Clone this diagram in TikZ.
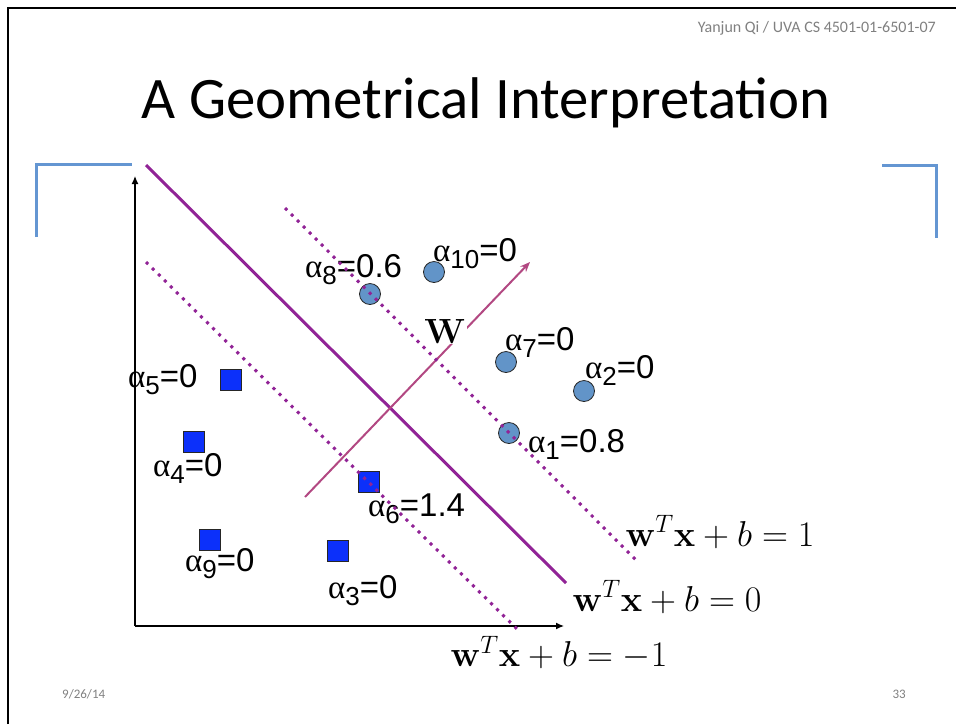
\RequirePackage{fix-cm}
\documentclass[tikz,border=0pt]{standalone}
\usepackage{amsmath,amssymb,bm}
\usepackage[no-math]{fontspec}
\setmainfont{Carlito}
\newfontfamily\alphafont{Liberation Sans}
\newfontfamily\greekfont{Liberation Serif}
\usepackage{xcolor}
\usepackage{tikz}
\usetikzlibrary{arrows.meta}
\definecolor{hplane}{RGB}{145,35,150}
\definecolor{wvec}{RGB}{178,72,130}
\definecolor{posfill}{RGB}{98,148,200}
\definecolor{negfill}{RGB}{12,48,250}
\definecolor{bracket}{RGB}{100,150,210}
\newcommand{\alab}[2]{{\greekfont α}\raisebox{-7pt}{\fontsize{26}{26}\selectfont#1}=#2}
\tikzset{
  posdot/.style={circle,draw=black!85,fill=posfill,minimum size=21pt,inner sep=0pt,line width=0.8pt},
  negbox/.style={rectangle,draw=black!85,fill=negfill,minimum size=21pt,inner sep=0pt,line width=0.8pt},
  alphalab/.style={font=\alphafont\fontsize{33}{35}\selectfont,inner sep=0pt,anchor=west},
  eqn/.style={font=\fontsize{36}{38}\selectfont,inner sep=0pt},
  axisline/.style={line width=1.3pt,-{Latex[length=8pt,width=7pt]}},
  marginline/.style={hplane,line width=3pt,dash pattern=on 3pt off 5.5pt},
  boundary/.style={hplane,line width=3pt},
  slideframe/.style={bracket,line width=3pt},
  smalltext/.style={text=gray,inner sep=0pt}
}

\begin{document}
\begin{tikzpicture}[x=1pt,y=-1pt]
  \useasboundingbox (0,0) rectangle (956,724);
  % slide frame
  \draw[line width=2.5pt] (8,724) -- (8,8) -- (956,8);
  \draw[slideframe] (36,237) -- (36,164) -- (132,164);
  \draw[slideframe] (882,165) -- (936,165) -- (936,238);
  \node[smalltext,anchor=east,font=\fontsize{16}{18}\selectfont] (hdr) at (936,28)
    {Yanjun Qi / UVA CS 4501-01-6501-07};
  \node[font=\fontsize{58.8}{60}\selectfont] (title) at (486,103) {A Geometrical Interpretation};
  \node[smalltext,anchor=west,font=\fontsize{13}{15}\selectfont] (date) at (62,694) {9/26/14};
  \node[smalltext,anchor=east,font=\fontsize{13}{15}\selectfont] (page) at (906,694) {33};

  % axes
  \coordinate (o) at (135,626);
  \coordinate (ytip) at (135,176);
  \coordinate (xtip) at (564,626);
  \draw[axisline] (o) -- (ytip);
  \draw[axisline] (o) -- (xtip);

  % separating hyperplane and normal vector
  \draw[boundary] (146,165) -- (566,583);
  \draw[wvec,line width=2pt,-{Stealth[length=10pt,width=8pt]}] (305,497) -- (530,262);
  \node[fill=white,inner sep=1pt,font=\fontsize{35}{37}\selectfont] (w) at (445,331) {$\mathbf{W}$};

  % positive class
  \node[posdot] (c8) at (370,294) {};
  \node[posdot] (c10) at (434,272) {};
  \node[posdot] (c7) at (506,362) {};
  \node[posdot] (c2) at (584,391) {};
  \node[posdot] (c1) at (509,433) {};
  % negative class
  \node[negbox] (s5) at (231,380) {};
  \node[negbox] (s4) at (194,442) {};
  \node[negbox] (s6) at (369,482) {};
  \node[negbox] (s9) at (210,540) {};
  \node[negbox] (s3) at (338,551) {};

  % multipliers
  \node[alphalab] (a8) at (305,270) {\alab{8}{0.6}};
  \node[alphalab] (a10) at (433,254) {\alab{10}{0}};
  \node[alphalab] (a7) at (505,342) {\alab{7}{0}};
  \node[alphalab] (a2) at (585,370) {\alab{2}{0}};
  \node[alphalab] (a1) at (528,444) {\alab{1}{0.8}};
  \node[alphalab] (a5) at (128,380) {\alab{5}{0}};
  \node[alphalab] (a4) at (153,468) {\alab{4}{0}};
  \node[alphalab] (a6) at (368,509) {\alab{6}{1.4}};
  \node[alphalab] (a9) at (185,564) {\alab{9}{0}};
  \node[alphalab] (a3) at (328,591) {\alab{3}{0}};

  % margins
  \draw[marginline] (285,208) -- (637,561);
  \draw[marginline] (146,262) -- (517,629);

  \node[eqn] (eqp) at (720,532) {$\mathbf{w}^T\mathbf{x}+b=1$};
  \node[eqn] (eqz) at (667,597) {$\mathbf{w}^T\mathbf{x}+b=0$};
  \node[eqn] (eqm) at (559,653) {$\mathbf{w}^T\mathbf{x}+b=-1$};
\end{tikzpicture}
\end{document}
